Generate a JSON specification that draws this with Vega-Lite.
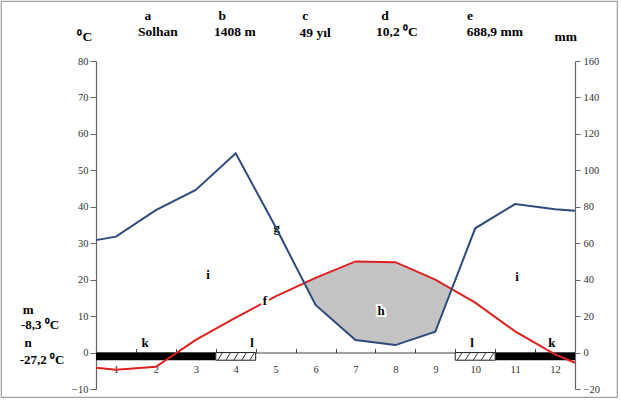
{
  "$schema": "https://vega.github.io/schema/vega-lite/v6.json",
  "width": 616,
  "height": 396,
  "autosize": {"type": "none"},
  "padding": {"left": 1, "top": 1, "right": 4, "bottom": 4},
  "background": "white",
  "config": {
    "view": {"stroke": "#a0a0a0", "strokeWidth": 1.2},
    "font": "Liberation Serif",
    "axis": {"grid": false, "labelFont": "Liberation Serif", "labelFontSize": 10.5, "labelColor": "#333333", "domainColor": "#666666", "tickColor": "#666666", "domainWidth": 1.2, "tickWidth": 1}
  },
  "datasets": {
    "temp": [
      {"m": 0.5, "t": -4.2}, {"m": 1, "t": -4.7}, {"m": 2, "t": -3.9}, {"m": 3, "t": 3.5},
      {"m": 4, "t": 9.6}, {"m": 5, "t": 15.4}, {"m": 6, "t": 20.5}, {"m": 7, "t": 25.0},
      {"m": 8, "t": 24.8}, {"m": 9, "t": 20.0}, {"m": 10, "t": 13.7}, {"m": 11, "t": 5.8},
      {"m": 12, "t": -0.5}, {"m": 12.5, "t": -2.8}
    ],
    "prec": [
      {"m": 0.5, "p": 61.7}, {"m": 1, "p": 63.6}, {"m": 2, "p": 78.2}, {"m": 3, "p": 89.2},
      {"m": 4, "p": 109.3}, {"m": 5, "p": 68.9}, {"m": 6, "p": 26.1}, {"m": 7, "p": 6.9},
      {"m": 8, "p": 4.1}, {"m": 9, "p": 11.4}, {"m": 10, "p": 68.2}, {"m": 11, "p": 81.5},
      {"m": 12, "p": 78.6}, {"m": 12.5, "p": 77.8}
    ],
    "dry": [
      {"m": 5.74, "lo": 19.1, "hi": 19.1}, {"m": 6, "lo": 13.05, "hi": 20.5},
      {"m": 7, "lo": 3.45, "hi": 25.0}, {"m": 8, "lo": 2.05, "hi": 24.8},
      {"m": 9, "lo": 5.7, "hi": 20.0}, {"m": 9.41, "lo": 17.4, "hi": 17.4}
    ],
    "frost": [
      {"from": 0.5, "to": 3.5, "kind": "certain"}, {"from": 10.5, "to": 12.5, "kind": "certain"},
      {"from": 3.5, "to": 4.5, "kind": "probable"}, {"from": 9.5, "to": 10.5, "kind": "probable"}
    ],
    "hatch": [
      {"a": 3.55, "b": 3.67}, {"a": 3.75, "b": 3.87}, {"a": 3.95, "b": 4.07}, {"a": 4.15, "b": 4.27}, {"a": 4.35, "b": 4.47},
      {"a": 9.55, "b": 9.67}, {"a": 9.75, "b": 9.87}, {"a": 9.95, "b": 10.07}, {"a": 10.15, "b": 10.27}, {"a": 10.35, "b": 10.47}
    ],
    "header": [
      {"m": 1.80, "v": 92.4, "text": "a"}, {"m": 2.05, "v": 88.0, "text": "Solhan"},
      {"m": 3.66, "v": 92.4, "text": "b"}, {"m": 3.98, "v": 88.0, "text": "1408 m"},
      {"m": 5.74, "v": 92.4, "text": "c"}, {"m": 5.99, "v": 87.6, "text": "49 yıl"},
      {"m": 7.74, "v": 92.4, "text": "d"}, {"m": 8.04, "v": 88.0, "text": "10,2 ⁰C"},
      {"m": 9.87, "v": 92.4, "text": "e"}, {"m": 10.49, "v": 88.0, "text": "688,9 mm"},
      {"m": 0.22, "v": 86.6, "text": "⁰C"}, {"m": 12.27, "v": 86.6, "text": "mm"}
    ],
    "notes": [
      {"m": 1.73, "v": 2.6, "text": "k"}, {"m": 11.92, "v": 2.6, "text": "k"},
      {"m": 4.41, "v": 2.6, "text": "l"}, {"m": 9.92, "v": 2.6, "text": "l"},
      {"m": 3.31, "v": 21.3, "text": "i"}, {"m": 11.05, "v": 20.7, "text": "i"},
      {"m": 5.03, "v": 34.2, "text": "g"}, {"m": 4.73, "v": 14.1, "text": "f"},
      {"m": 7.64, "v": 11.4, "text": "h"},
      {"m": -1.2, "v": 11.7, "text": "m"}, {"m": -0.9, "v": 7.5, "text": "-8,3 ⁰C"},
      {"m": -1.2, "v": 2.6, "text": "n"}, {"m": -0.85, "v": -2.1, "text": "-27,2 ⁰C"}
    ]
  },
  "layer": [
    {
      "layer": [
        {
          "data": {"name": "dry"},
          "mark": {"type": "area", "color": "#c3c3c3", "opacity": 1},
          "encoding": {
            "x": {"field": "m", "type": "quantitative", "title": null,
                  "scale": {"domain": [0.5, 12.5], "range": [95, 574], "nice": false, "zero": false},
                  "axis": {"orient": "bottom", "offset": -44.5, "values": [1,2,3,4,5,6,7,8,9,10,11,12], "tickOffset": 20, "labelOffset": -20, "tickSize": -4, "labelPadding": 16, "domainColor": "#444444", "tickColor": "#444444", "title": null}},
            "y": {"field": "hi", "type": "quantitative", "title": null,
                  "scale": {"domain": [-10, 80], "range": [388, 60], "nice": false, "zero": false},
                  "axis": {"orient": "left", "offset": -95, "values": [-10,0,10,20,30,40,50,60,70,80], "tickSize": 6, "labelPadding": 2, "title": null}},
            "y2": {"field": "lo"}
          }
        },
        {
          "data": {"name": "frost"},
          "transform": [{"filter": "datum.kind == 'certain'"}],
          "mark": {"type": "rect", "color": "black"},
          "encoding": {
            "x": {"field": "from", "type": "quantitative", "title": null},
            "x2": {"field": "to"},
            "y": {"datum": 0, "type": "quantitative", "title": null},
            "y2": {"datum": -2.1}
          }
        },
        {
          "data": {"name": "frost"},
          "transform": [{"filter": "datum.kind == 'probable'"}],
          "mark": {"type": "rect", "fill": "white", "stroke": "#222222", "strokeWidth": 1},
          "encoding": {
            "x": {"field": "from", "type": "quantitative", "title": null},
            "x2": {"field": "to"},
            "y": {"datum": 0, "type": "quantitative", "title": null},
            "y2": {"datum": -2.1}
          }
        },
        {
          "data": {"name": "hatch"},
          "mark": {"type": "rule", "color": "#333333", "strokeWidth": 1},
          "encoding": {
            "x": {"field": "a", "type": "quantitative", "title": null},
            "x2": {"field": "b"},
            "y": {"datum": -2.1, "type": "quantitative", "title": null},
            "y2": {"datum": 0}
          }
        },
        {
          "data": {"name": "temp"},
          "mark": {"type": "line", "color": "#dd2020", "strokeWidth": 2},
          "encoding": {
            "x": {"field": "m", "type": "quantitative", "title": null},
            "y": {"field": "t", "type": "quantitative", "title": null}
          }
        },
        {
          "data": {"name": "header"},
          "mark": {"type": "text", "font": "Liberation Serif", "fontWeight": "bold", "fontSize": 13.5, "color": "black", "baseline": "middle"},
          "encoding": {
            "x": {"field": "m", "type": "quantitative", "title": null},
            "y": {"field": "v", "type": "quantitative", "title": null},
            "text": {"field": "text"}
          }
        },
        {
          "data": {"name": "notes"},
          "mark": {"type": "text", "font": "Liberation Serif", "fontWeight": "bold", "fontSize": 13, "stroke": "white", "strokeWidth": 4, "color": "white", "baseline": "middle"},
          "encoding": {
            "x": {"field": "m", "type": "quantitative", "title": null},
            "y": {"field": "v", "type": "quantitative", "title": null},
            "text": {"field": "text"}
          }
        },
        {
          "data": {"name": "notes"},
          "mark": {"type": "text", "font": "Liberation Serif", "fontWeight": "bold", "fontSize": 13, "color": "black", "baseline": "middle"},
          "encoding": {
            "x": {"field": "m", "type": "quantitative", "title": null},
            "y": {"field": "v", "type": "quantitative", "title": null},
            "text": {"field": "text"}
          }
        }
      ]
    },
    {
      "layer": [
        {
          "data": {"name": "prec"},
          "mark": {"type": "line", "color": "#2e4a7a", "strokeWidth": 2},
          "encoding": {
            "x": {"field": "m", "type": "quantitative", "title": null},
            "y": {"field": "p", "type": "quantitative", "title": null,
                  "scale": {"domain": [-20, 160], "range": [388, 60], "nice": false, "zero": false},
                  "axis": {"orient": "right", "offset": -42, "values": [-20,0,20,40,60,80,100,120,140,160], "tickSize": 5, "labelPadding": 3, "title": null}}
          }
        }
      ]
    }
  ],
  "resolve": {"scale": {"y": "independent"}}
}
